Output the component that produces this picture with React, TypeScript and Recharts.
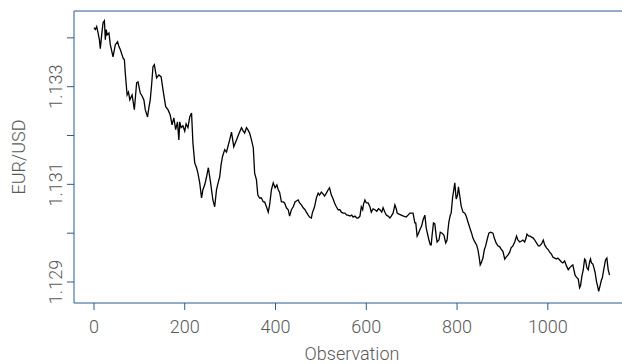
import React from "react";
import {
  LineChart,
  Line,
  XAxis,
  YAxis,
  ReferenceLine,
} from "recharts";

const obs = [
  0, 3, 6, 9, 12, 14, 17, 20, 23, 25, 27, 29, 33, 36, 42, 47, 52, 55, 58, 64, 67, 69, 73, 76, 79, 84, 89, 94, 97,
  102, 106, 110, 113, 118, 121, 124, 127, 130, 133, 138, 143, 148, 152, 158, 163, 168, 172, 176, 180, 184, 187,
  189, 192, 196, 200, 203, 207, 211, 215, 218, 222, 226, 229, 233, 237, 240, 244, 248, 252, 257, 262, 266, 270,
  274, 277, 280, 283, 288, 292, 295, 299, 303, 308, 314, 320, 325, 329, 332, 336, 339, 343, 347, 351, 354, 358,
  361, 365, 369, 373, 376, 380, 384, 387, 391, 395, 399, 403, 406, 409, 413, 417, 420, 424, 428, 431, 435, 439,
  443, 446, 450, 453, 457, 461, 465, 468, 472, 475, 479, 481, 486, 490, 494, 497, 501, 505, 508, 512, 516, 519,
  523, 527, 530, 534, 538, 542, 545, 549, 553, 557, 560, 564, 568, 571, 575, 579, 582, 586, 589, 592, 594, 597,
  600, 604, 608, 611, 615, 619, 623, 627, 630, 634, 637, 641, 644, 648, 652, 655, 659, 663, 666, 668, 672, 677,
  682, 688, 692, 696, 699, 703, 707, 709, 712, 715, 718, 722, 725, 729, 732, 734, 738, 741, 743, 745, 748, 751,
  754, 756, 760, 763, 767, 771, 775, 778, 780, 782, 785, 787, 790, 792, 795, 798, 801, 803, 806, 809, 813, 817,
  820, 824, 828, 832, 835, 839, 843, 846, 849, 851, 854, 857, 860, 863, 866, 870, 874, 879, 882, 886, 890, 894,
  898, 901, 905, 908, 912, 916, 919, 923, 927, 931, 934, 938, 942, 945, 949, 952, 954, 958, 961, 964, 968, 971,
  975, 979, 982, 986, 990, 993, 997, 1001, 1004, 1008, 1011, 1015, 1019, 1022, 1026, 1030, 1033, 1037, 1041,
  1045, 1048, 1052, 1055, 1060, 1063, 1067, 1070, 1072, 1075, 1078, 1081, 1083, 1086, 1089, 1092, 1094, 1096,
  1099, 1101, 1104, 1107, 1110, 1112, 1115, 1118, 1120, 1123, 1127, 1130, 1133, 1136,
];

const eurUsd = [
  1.13421, 1.13417, 1.13423, 1.1341, 1.13396, 1.13378, 1.13406, 1.13431, 1.13435, 1.13396, 1.13417, 1.13406,
  1.1341, 1.13386, 1.13361, 1.13386, 1.13392, 1.13382, 1.13376, 1.13359, 1.13355, 1.13328, 1.13283, 1.13289,
  1.13273, 1.13283, 1.13253, 1.13308, 1.1331, 1.13287, 1.13281, 1.13273, 1.13253, 1.13238, 1.13257, 1.13273,
  1.13304, 1.13341, 1.13345, 1.13318, 1.13324, 1.1332, 1.13294, 1.13259, 1.13253, 1.13242, 1.13222, 1.13236,
  1.13212, 1.13228, 1.13191, 1.13228, 1.13216, 1.1322, 1.13209, 1.13224, 1.13216, 1.13238, 1.13246, 1.13185,
  1.13144, 1.13134, 1.13123, 1.13103, 1.13072, 1.13089, 1.13099, 1.13115, 1.13134, 1.13103, 1.13068, 1.13054,
  1.13089, 1.13105, 1.13115, 1.1314, 1.13156, 1.13171, 1.13166, 1.13177, 1.13191, 1.13207, 1.13177, 1.13191,
  1.13205, 1.13216, 1.13209, 1.13205, 1.13216, 1.13212, 1.13205, 1.13191, 1.13175, 1.13123, 1.13109, 1.13078,
  1.13072, 1.13072, 1.13064, 1.13064, 1.13054, 1.13043, 1.13058, 1.13089, 1.13103, 1.13093, 1.13099, 1.13089,
  1.13084, 1.13064, 1.13064, 1.13062, 1.13052, 1.13048, 1.13035, 1.13048, 1.13054, 1.13064, 1.13066, 1.13068,
  1.13062, 1.13058, 1.13052, 1.13048, 1.13043, 1.13037, 1.13033, 1.13031, 1.13041, 1.13054, 1.13072, 1.13082,
  1.13078, 1.13084, 1.1308, 1.13076, 1.13082, 1.13089, 1.13093, 1.13078, 1.1307, 1.13062, 1.13054, 1.13048,
  1.13048, 1.13043, 1.13041, 1.13041, 1.13037, 1.13037, 1.13035, 1.13037, 1.13033, 1.13035, 1.13031, 1.13031,
  1.13035, 1.13054, 1.13048, 1.1306, 1.13068, 1.13062, 1.13062, 1.13054, 1.13043, 1.1305, 1.13048, 1.13045,
  1.1305, 1.13048, 1.13043, 1.13052, 1.13043, 1.13037, 1.13035, 1.13031, 1.13035, 1.13041, 1.13058, 1.1305,
  1.13041, 1.13039, 1.13037, 1.13035, 1.13033, 1.13037, 1.13041, 1.13041, 1.13041, 1.13021, 1.13021, 1.12994,
  1.13, 1.13007, 1.13015, 1.13027, 1.13037, 1.13011, 1.13002, 1.12986, 1.12976, 1.12976, 1.12996, 1.13021,
  1.13019, 1.12994, 1.12982, 1.12986, 1.13002, 1.13, 1.12996, 1.1298, 1.12986, 1.13007, 1.13023, 1.13037,
  1.13041, 1.13072, 1.13084, 1.13103, 1.1307, 1.13078, 1.13095, 1.13076, 1.13056, 1.13043, 1.13041, 1.13035,
  1.13023, 1.13011, 1.13, 1.1299, 1.12982, 1.12976, 1.12966, 1.12949, 1.12935, 1.12941, 1.12949, 1.12966,
  1.12974, 1.12986, 1.13, 1.13002, 1.13, 1.1299, 1.1298, 1.12974, 1.12972, 1.12966, 1.12963, 1.12947, 1.12951,
  1.12955, 1.12961, 1.1297, 1.12974, 1.12982, 1.12994, 1.12986, 1.12982, 1.12984, 1.12986, 1.12982, 1.1299,
  1.12998, 1.12994, 1.12994, 1.12992, 1.1299, 1.12986, 1.1298, 1.12974, 1.12974, 1.12978, 1.12986, 1.12976,
  1.1297, 1.12966, 1.12961, 1.12957, 1.12951, 1.12949, 1.12947, 1.12949, 1.12945, 1.12941, 1.12939, 1.12943,
  1.12933, 1.12925, 1.12929, 1.12933, 1.12935, 1.12914, 1.1291, 1.12906, 1.12888, 1.12892, 1.12912, 1.12925,
  1.12947, 1.12945, 1.12929, 1.12925, 1.12941, 1.12947, 1.12939, 1.12937, 1.12931, 1.1292, 1.12902, 1.1289,
  1.12881, 1.12892, 1.12904, 1.12908, 1.12925, 1.12945, 1.12949, 1.12925, 1.12914,
];

const xTicks = [0, 200, 400, 600, 800, 1000];
const yTicks = [1.129, 1.13, 1.131, 1.132, 1.133, 1.134];
const yTickLabels = ["1.129", "", "1.131", "", "1.133", ""];

const X_DOMAIN: [number, number] = [-44, 1181];
const Y_DOMAIN: [number, number] = [1.12857, 1.13455];

const AXIS = "#2b5b94";
const TEXT = "#595959";
const FONT = "Roboto, 'DejaVu Sans', sans-serif";

const data = obs.map((o, i) => ({ obs: o, rate: eurUsd[i] }));

function YTick(props: any) {
  const { x, y, payload } = props;
  const idx = yTicks.indexOf(payload.value);
  const label = idx >= 0 ? yTickLabels[idx] : "";
  if (!label) return null;
  return (
    <text
      x={x}
      y={y}
      transform={`rotate(-90, ${x}, ${y})`}
      textAnchor="middle"
      fill={TEXT}
      fontSize={18}
      fontWeight={300}
      fontFamily={FONT}
    >
      {label}
    </text>
  );
}

export default function App() {
  return (
    <div style={{ position: "absolute", left: 0, top: 0, width: 622, height: 364, overflow: "hidden", background: "#fff" }}>
      <LineChart width={640} height={364} data={data} margin={{ top: 11, right: 10, bottom: 0, left: 0 }}>
        <XAxis
          dataKey="obs"
          type="number"
          domain={X_DOMAIN}
          ticks={xTicks}
          allowDataOverflow
          height={61}
          stroke={AXIS}
          tickSize={7}
          tickMargin={10}
          tick={{ fill: TEXT, fontSize: 18, fontWeight: 300, fontFamily: FONT }}
          label={({ viewBox }: any) => (
            <text
              x={viewBox.x + viewBox.width / 2}
              y={viewBox.y + 57}
              textAnchor="middle"
              fill={TEXT}
              fontSize={18}
              fontWeight={300}
              fontFamily={FONT}
            >
              Observation
            </text>
          )}
        />
        <YAxis
          type="number"
          domain={Y_DOMAIN}
          ticks={yTicks}
          allowDataOverflow
          width={74}
          stroke={AXIS}
          tickSize={7}
          tickMargin={5}
          tick={<YTick />}
          label={({ viewBox }: any) => {
            const cx = viewBox.x + 25;
            const cy = viewBox.y + viewBox.height / 2;
            return (
              <text
                x={cx}
                y={cy}
                transform={`rotate(-90, ${cx}, ${cy})`}
                textAnchor="middle"
                fill={TEXT}
                fontSize={18}
                fontWeight={300}
                fontFamily={FONT}
              >
                EUR/USD
              </text>
            );
          }}
        />
        <ReferenceLine y={Y_DOMAIN[1]} stroke={AXIS} />
        <ReferenceLine x={X_DOMAIN[1]} stroke={AXIS} />
        <Line
          type="linear"
          dataKey="rate"
          stroke="#000"
          strokeWidth={1.3}
          dot={false}
          isAnimationActive={false}
        />
      </LineChart>
    </div>
  );
}
